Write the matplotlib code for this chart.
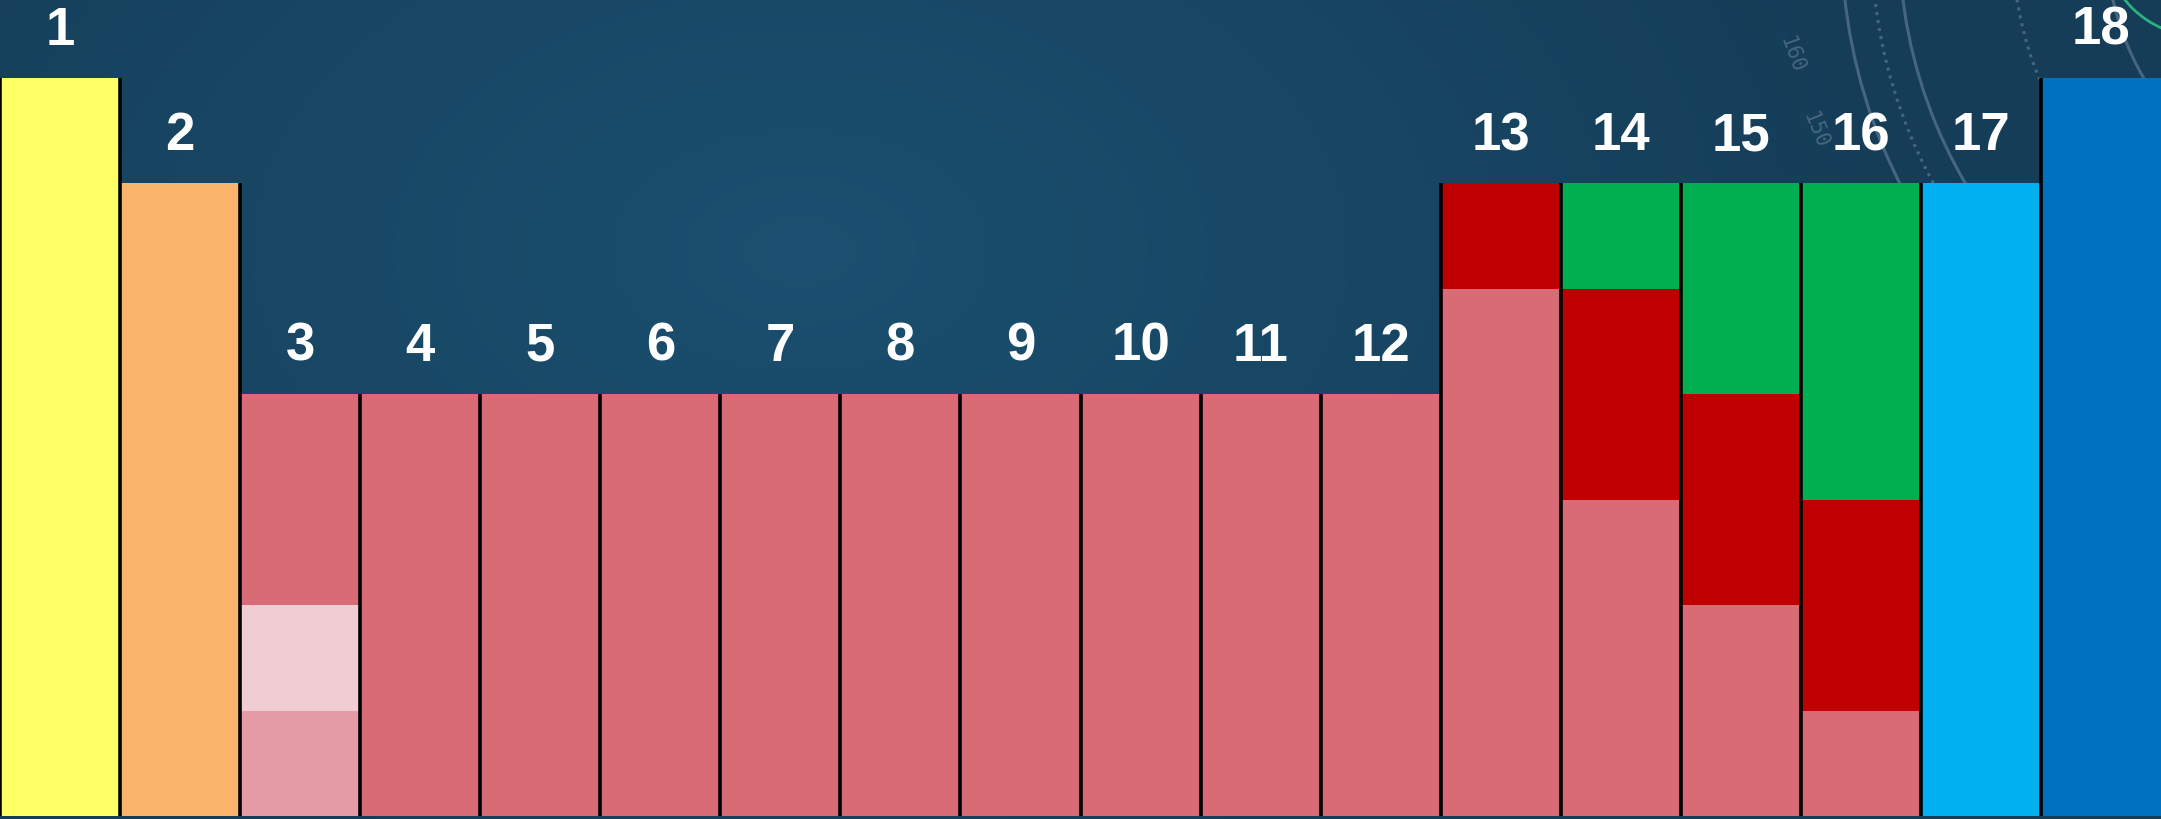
import numpy as np
import matplotlib
matplotlib.use("Agg")
import matplotlib.pyplot as plt
from matplotlib.patches import Arc

# group numbers and stacked segment heights (bottom -> top)
groups = list(range(1, 19))
seg_pink_light = [0, 0, 1, 0, 0, 0, 0, 0, 0, 0, 0, 0, 0, 0, 0, 0, 0, 0]
seg_pink_pale = [0, 0, 1, 0, 0, 0, 0, 0, 0, 0, 0, 0, 0, 0, 0, 0, 0, 0]
seg_pink = [0, 0, 2, 4, 4, 4, 4, 4, 4, 4, 4, 4, 5, 3, 2, 1, 0, 0]
seg_red = [0, 0, 0, 0, 0, 0, 0, 0, 0, 0, 0, 0, 1, 2, 2, 2, 0, 0]
seg_green = [0, 0, 0, 0, 0, 0, 0, 0, 0, 0, 0, 0, 0, 1, 2, 3, 0, 0]
seg_yellow = [7] + [0] * 17
seg_orange = [0, 6] + [0] * 16
seg_cyan = [0] * 16 + [6, 0]
seg_blue = [0] * 17 + [7]

segments = [
    (seg_yellow, "#FFFF66"),
    (seg_orange, "#FAB36A"),
    (seg_pink_light, "#E49BA5"),
    (seg_pink_pale, "#F1CDD3"),
    (seg_pink, "#D96B77"),
    (seg_red, "#C00000"),
    (seg_green, "#00B050"),
    (seg_cyan, "#00B0F0"),
    (seg_blue, "#0070C0"),
]

W, H = 2161, 819
fig = plt.figure(figsize=(W / 100, H / 100), dpi=100)

# background with soft radial glow and faint dial decoration
bg = fig.add_axes([0, 0, 1, 1])
yy, xx = np.mgrid[0:H, 0:W]
d = np.sqrt(((xx - 800) / 1100.0) ** 2 + ((yy - 250) / 700.0) ** 2)
t = np.clip(d, 0, 1)[..., None]
c_in = np.array([0x1B, 0x50, 0x70]) / 255.0
c_out = np.array([0x15, 0x3D, 0x58]) / 255.0
bg.imshow(c_in * (1 - t) + c_out * t, extent=[0, W, H, 0], aspect="auto")
cx, cy = 2380, -60
for px, ls in [(1845, "-"), (1875, ":"), (1903, "-"), (2017, ":"), (2113, "-")]:
    r = np.hypot(cx - px, cy)
    bg.add_patch(Arc((cx, cy), 2 * r, 2 * r, color="#9fb3c4", lw=2.2, ls=ls, alpha=0.35))
r = np.hypot(2200 - 2125, 60)
bg.add_patch(Arc((2200, -60), 2 * r, 2 * r, color="#2fd08a", lw=2, alpha=0.8))
bg.text(1792, 55, "160", color="#8fa4b6", alpha=0.4, fontsize=15, rotation=-70,
        ha="center", va="center", family="DejaVu Sans Mono")
bg.text(1815, 130, "150", color="#8fa4b6", alpha=0.4, fontsize=15, rotation=-68,
        ha="center", va="center", family="DejaVu Sans Mono")
bg.set_xlim(0, W)
bg.set_ylim(H, 0)
bg.axis("off")

ax = fig.add_axes([0, 0, 1, 1])
ax.patch.set_alpha(0)
x = np.arange(len(groups)) + 0.5
bottom = np.zeros(len(groups))
for vals, col in segments:
    vals = np.array(vals, dtype=float)
    ax.bar(x, vals, width=1.0, bottom=bottom, color=col, linewidth=0, zorder=2)
    bottom += vals

totals = bottom
for i in range(len(groups)):
    h = totals[i] if i == 0 else max(totals[i], totals[i - 1])
    ax.vlines(i, 0, h, color="black", lw=2.6, zorder=3)

for xi, h, g in zip(x, totals, groups):
    ax.text(xi, h + 0.45, str(g), color="white", fontsize=38, fontweight="bold",
            family="Liberation Sans", ha="center", va="center", zorder=4)

ax.set_xlim(0, 18)
ax.set_ylim(-0.028, 7.74)
ax.axis("off")

fig.savefig("out.png", dpi=100)
